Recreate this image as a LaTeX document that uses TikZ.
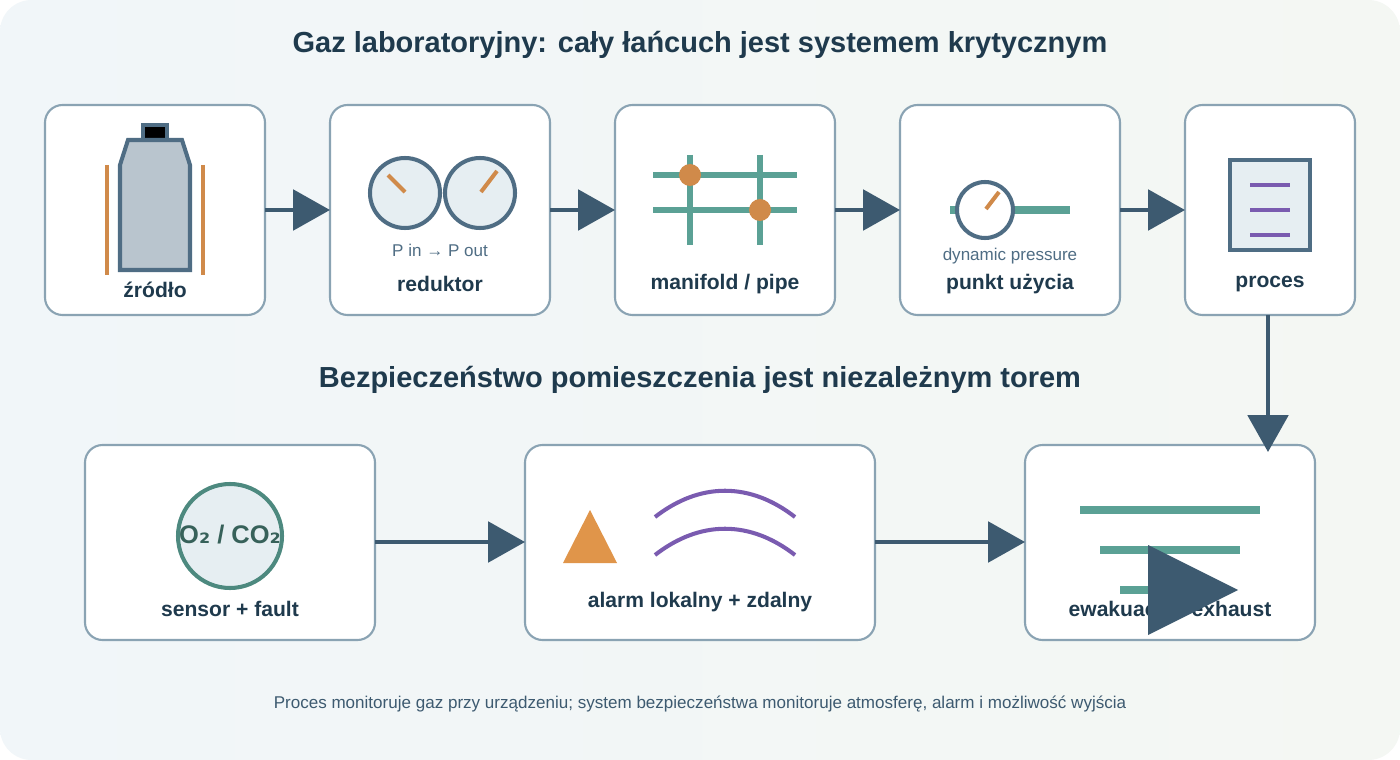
\documentclass[tikz,border=0pt]{standalone}
\usepackage{fontspec}
\setmainfont{Liberation Sans}
\newfontfamily\dvs{DejaVu Sans}
\usetikzlibrary{arrows.meta}
\definecolor{ink}{HTML}{1F3A4D}
\definecolor{slate}{HTML}{4F6D84}
\definecolor{edge}{HTML}{8AA3B3}
\definecolor{arr}{HTML}{3D5A70}
\definecolor{ochre}{HTML}{D08A4A}
\definecolor{warn}{HTML}{E0954A}
\definecolor{teal}{HTML}{5BA195}
\definecolor{plum}{HTML}{7A5BB0}
\definecolor{pale}{HTML}{E6EEF2}
\definecolor{bgl}{HTML}{F1F6F9}
\definecolor{bgr}{HTML}{F4F7F3}
\tikzset{
  card/.style = {draw=edge, line width=1.2pt, fill=white, rounded corners=10pt},
  flow/.style = {draw=arr, line width=2.3pt, -{Triangle[length=21pt, width=23pt]}},
  lbl/.style  = {font=\fontsize{12}{14}\selectfont\bfseries, text=ink},
  sub/.style  = {font=\fontsize{9.7}{11}\selectfont, text=slate}
}
\begin{document}
\begin{tikzpicture}[x=0.02cm, y=-0.02cm]
	\useasboundingbox (0,0) rectangle (1400,760);
	\fill[white] (0,0) rectangle (1400,760);
	\shade[left color=bgl, right color=bgr, rounded corners=18pt] (0,0) rectangle (1400,760);
	
	% Titles
	\node[font=\fontsize{16.5}{19}\selectfont\bfseries, text=ink] (title) at (700,45) {Gaz laboratoryjny: cały łańcuch jest systemem krytycznym};
	\node[font=\fontsize{16.5}{19}\selectfont\bfseries, text=ink] (title2) at (700,380) {Bezpieczeństwo pomieszczenia jest niezależnym torem};
	\node[font=\fontsize{9.7}{11}\selectfont, text=arr] (foot) at (700,704) {Proces monitoruje gaz przy urządzeniu; system bezpieczeństwa monitoruje atmosferę, alarm i możliwość wyjścia};
	
	% Cards
	\path[card] (45,105) rectangle (265,315);
	\path[card] (330,105) rectangle (550,315);
	\path[card] (615,105) rectangle (835,315);
	\path[card] (900,105) rectangle (1120,315);
	\path[card] (1185,105) rectangle (1355,315);
	\path[card] (85,445) rectangle (375,640);
	\path[card] (525,445) rectangle (875,640);
	\path[card] (1025,445) rectangle (1315,640);
	\coordinate (c1e) at (265,210); \coordinate (c2w) at (330,210);
	\coordinate (c2e) at (550,210); \coordinate (c3w) at (615,210);
	\coordinate (c3e) at (835,210); \coordinate (c4w) at (900,210);
	\coordinate (c4e) at (1120,210); \coordinate (c5w) at (1185,210);
	\coordinate (c5s) at (1268,315); \coordinate (c8n) at (1268,452);
	\coordinate (c6e) at (375,542); \coordinate (c7w) at (525,542);
	\coordinate (c7e) at (875,542); \coordinate (c8w) at (1025,542);
	
	% Source
	\draw[ochre, line width=2.3pt] (107,165) -- (107,275) (203,165) -- (203,275);
	\draw[slate, line width=2.3pt, fill=black] (143,125) rectangle (167,140);
	\draw[slate, line width=2.3pt, fill=slate!40!white] (120,165) -- (128,140) -- (182,140) -- (190,165) -- (190,270) -- (120,270) -- cycle;
	\node[lbl] (src) at (155,290) {źródło};
	
	% Regulator
	\draw[slate, line width=2.3pt, fill=pale] (405,193) circle (35) (480,193) circle (35);
	\draw[ochre, line width=2.3pt] (388,175) -- (405,192) (497,171) -- (481,192);
	\node[sub] (pio) at (440,250) {P in → P out};
	\node[lbl] (red) at (440,284) {reduktor};
	
	% Manifold
	\draw[teal, line width=3.5pt] (653,175) -- (797,175) (653,210) -- (797,210) (690,155) -- (690,245) (760,155) -- (760,245);
	\fill[ochre] (690,175) circle (11) (760,210) circle (11);
	\node[lbl] (man) at (725,284) {manifold / pipe};
	
	% Point of use
	\draw[teal, line width=4.5pt] (950,210) -- (1070,210);
	\draw[slate, line width=2.3pt, fill=white] (985,210) circle (28);
	\draw[ochre, line width=2.3pt] (986,209) -- (999,192);
	\node[sub] (dp) at (1010,256) {dynamic pressure};
	\node[lbl] (pu) at (1010,284) {punkt użycia};
	
	% Process
	\draw[slate, line width=2.3pt, fill=pale] (1230,160) rectangle (1310,250);
	\draw[plum, line width=2.3pt] (1250,185) -- (1290,185) (1250,210) -- (1290,210) (1250,235) -- (1290,235);
	\node[lbl] (proc) at (1270,284) {proces};
	
	% Sensor
	\draw[teal!85!black, line width=2.3pt, fill=pale] (230,536) circle (52);
	\node[font=\fontsize{14.5}{16}\selectfont\bfseries, text=teal!60!black] (gas) at (230,535) {O{\dvs ₂} / CO{\dvs ₂}};
	\node[lbl] (sens) at (230,609) {sensor + fault};
	
	% Alarm
	\fill[warn] (563,563) -- (590,510) -- (617,563) -- cycle;
	\draw[plum, line width=2.3pt] (655,517) .. controls (700,482) and (750,482) .. (795,517);
	\draw[plum, line width=2.3pt] (655,555) .. controls (700,520) and (750,520) .. (795,555);
	\node[lbl] (alarm) at (700,602) {alarm lokalny + zdalny};
	
	% Exhaust
	\draw[teal, line width=4.5pt] (1080,510) -- (1260,510) (1100,550) -- (1240,550) (1120,590) -- (1220,590);
	\node[lbl] (exh) at (1170,611) {ewakuacja / exhaust};
	\fill[arr] (1148,545) -- (1238,590) -- (1148,635) -- cycle;
	
	% Flow
	\draw[flow] (c1e) -- (c2w);
	\draw[flow] (c2e) -- (c3w);
	\draw[flow] (c3e) -- (c4w);
	\draw[flow] (c4e) -- (c5w);
	\draw[flow] (c5s) -- (c8n);
	\draw[flow] (c6e) -- (c7w);
	\draw[flow] (c7e) -- (c8w);
\end{tikzpicture}
\end{document}
